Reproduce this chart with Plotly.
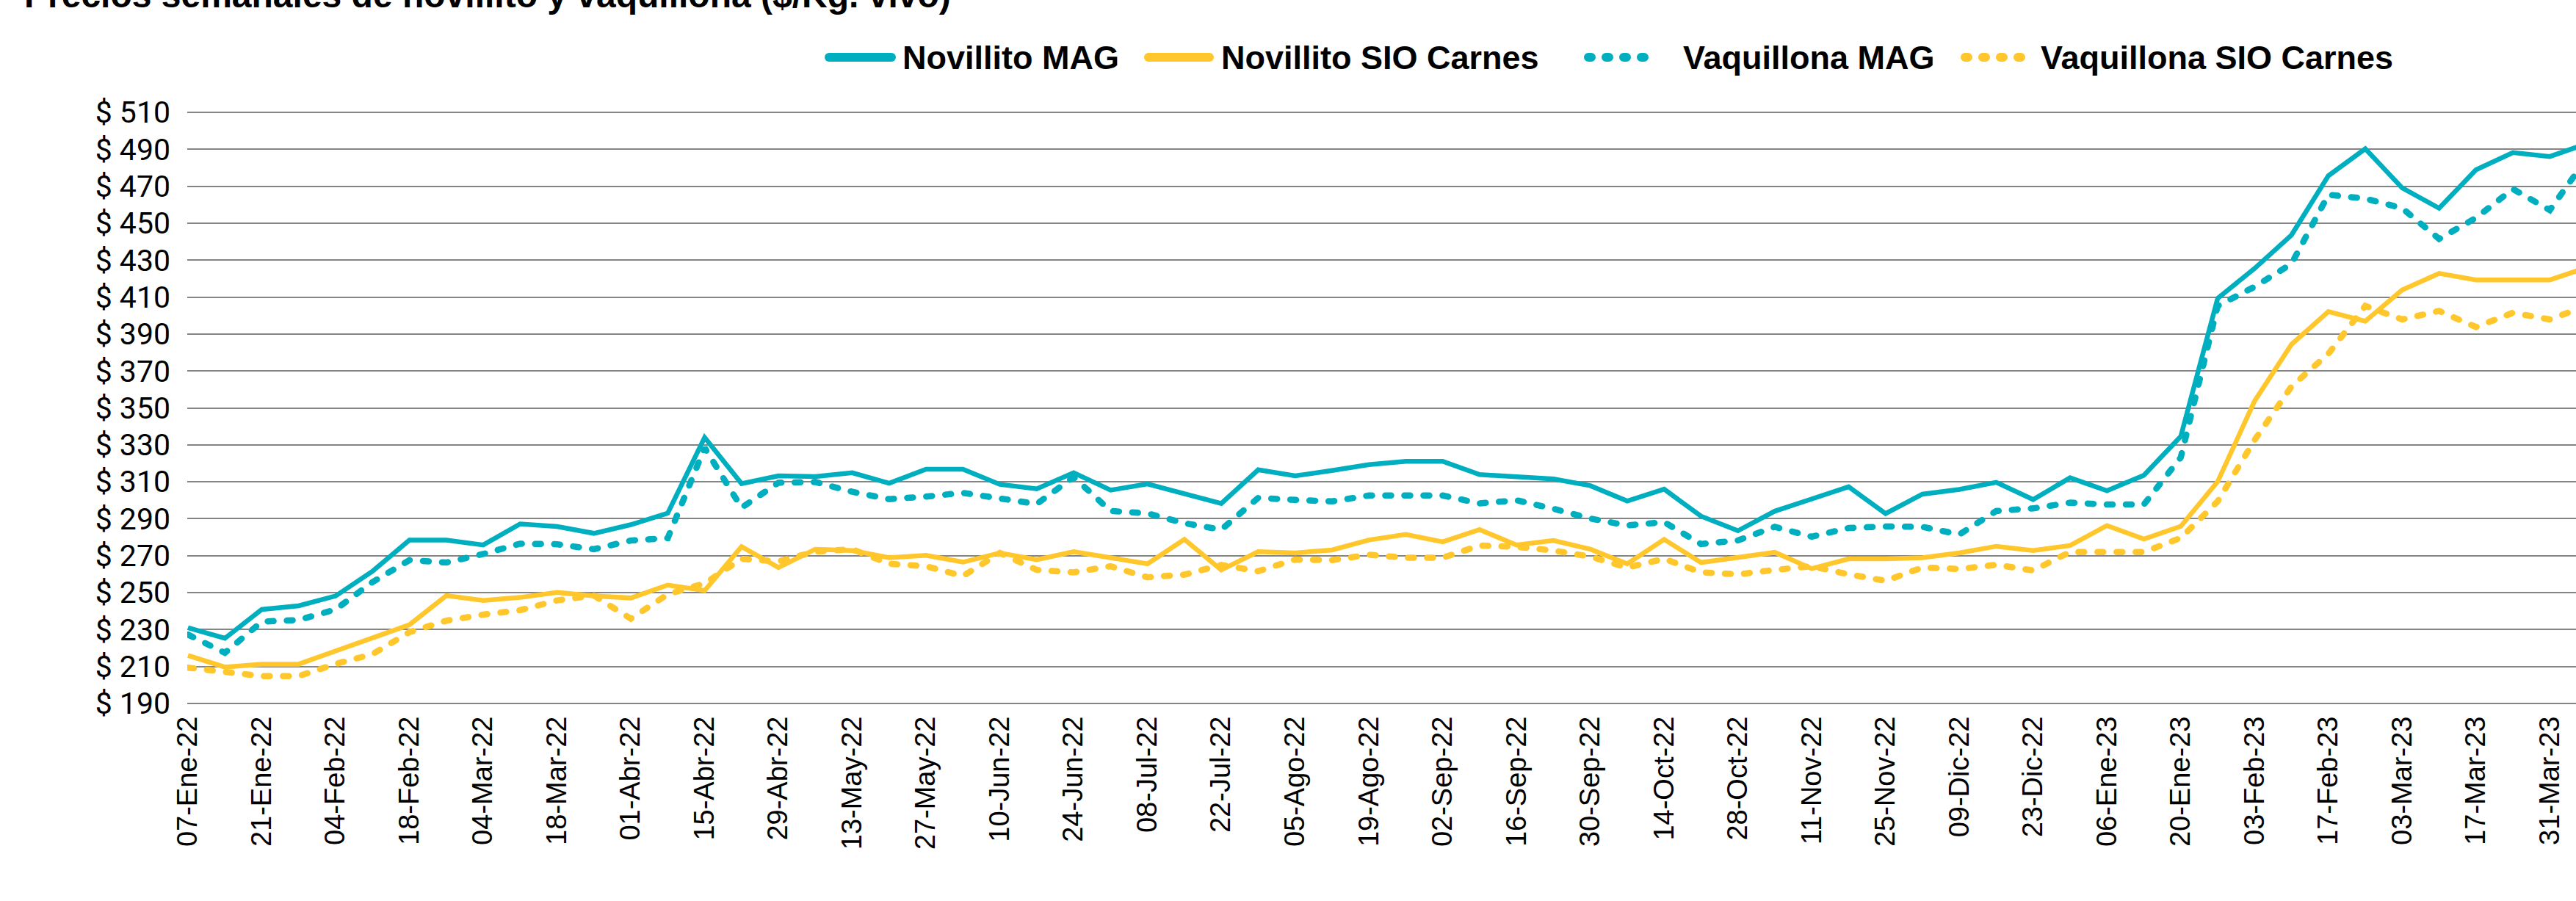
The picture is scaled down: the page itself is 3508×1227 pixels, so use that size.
import plotly.graph_objects as go

# ---------------- data ----------------
semanas = [
    "07-Ene-22", "14-Ene-22", "21-Ene-22", "28-Ene-22", "04-Feb-22", "11-Feb-22",
    "18-Feb-22", "25-Feb-22", "04-Mar-22", "11-Mar-22", "18-Mar-22", "25-Mar-22",
    "01-Abr-22", "08-Abr-22", "15-Abr-22", "22-Abr-22", "29-Abr-22", "06-May-22",
    "13-May-22", "20-May-22", "27-May-22", "03-Jun-22", "10-Jun-22", "17-Jun-22",
    "24-Jun-22", "01-Jul-22", "08-Jul-22", "15-Jul-22", "22-Jul-22", "29-Jul-22",
    "05-Ago-22", "12-Ago-22", "19-Ago-22", "26-Ago-22", "02-Sep-22", "09-Sep-22",
    "16-Sep-22", "23-Sep-22", "30-Sep-22", "07-Oct-22", "14-Oct-22", "21-Oct-22",
    "28-Oct-22", "04-Nov-22", "11-Nov-22", "18-Nov-22", "25-Nov-22", "02-Dic-22",
    "09-Dic-22", "16-Dic-22", "23-Dic-22", "30-Dic-22", "06-Ene-23", "13-Ene-23",
    "20-Ene-23", "27-Ene-23", "03-Feb-23", "10-Feb-23", "17-Feb-23", "24-Feb-23",
    "03-Mar-23", "10-Mar-23", "17-Mar-23", "24-Mar-23", "31-Mar-23", "07-Abr-23",
]

novillito_mag = [
    231.0, 225.3, 240.9, 242.9, 248.2, 261.6, 278.4, 278.4, 275.8, 287.2, 285.8,
    282.1, 286.8, 293.0, 334.0, 309.0, 313.2, 312.8, 314.9, 309.2, 316.8, 316.8,
    308.6, 306.2, 314.9, 305.5, 308.8, 303.3, 298.3, 316.5, 313.2, 316.1, 319.3,
    321.1, 321.1, 313.9, 312.8, 311.5, 307.9, 299.6, 306.0, 291.4, 283.5, 294.1,
    300.7, 307.3, 292.8, 303.3, 305.9, 309.7, 300.4, 312.2, 305.2, 313.5, 334.6,
    409.3, 425.5, 443.6, 475.7, 490.3, 469.1, 458.1, 478.9, 488.2, 486.1, 493.0,
]

novillito_sio = [
    216.0, 209.7, 211.3, 211.3, 218.4, 225.7, 232.6, 248.4, 245.8, 247.4, 250.1,
    248.2, 247.1, 254.1, 251.1, 274.9, 263.6, 273.5, 272.8, 268.9, 270.2, 266.5,
    271.5, 267.8, 272.2, 268.9, 265.6, 278.8, 262.3, 272.2, 271.5, 273.1, 278.5,
    281.5, 277.5, 284.1, 275.8, 278.2, 273.5, 265.6, 278.8, 266.3, 268.9, 271.8,
    263.0, 268.3, 268.3, 268.9, 271.5, 275.1, 272.8, 275.5, 286.3, 279.0, 285.9,
    310.1, 353.7, 384.4, 402.1, 396.9, 413.9, 422.8, 419.3, 419.3, 419.3, 426.0,
]

vaquillona_mag = [
    227.3, 217.4, 234.3, 235.2, 240.9, 255.7, 267.6, 266.3, 270.9, 276.5, 276.2,
    273.5, 278.2, 279.5, 328.4, 296.0, 309.5, 309.9, 304.6, 300.6, 302.0, 304.0,
    301.0, 298.0, 312.6, 294.2, 292.9, 287.6, 284.1, 301.3, 300.2, 299.4, 302.6,
    302.6, 302.6, 298.3, 300.0, 295.4, 290.1, 286.4, 288.2, 276.3, 278.3, 285.6,
    280.3, 285.0, 285.8, 285.6, 281.5, 294.2, 295.6, 298.7, 297.7, 297.7, 323.2,
    405.2, 415.6, 428.0, 465.4, 463.3, 458.1, 441.5, 452.9, 468.5, 457.1, 485.0,
]

vaquillona_sio = [
    209.4, 206.8, 204.8, 204.8, 211.4, 216.7, 228.6, 234.8, 238.1, 240.5, 245.8,
    248.4, 235.9, 249.1, 255.0, 268.3, 266.9, 272.2, 273.5, 265.6, 264.3, 259.0,
    271.5, 262.3, 261.0, 264.3, 258.3, 259.7, 265.0, 261.6, 267.9, 267.6, 270.5,
    268.9, 268.9, 275.5, 274.8, 272.8, 269.5, 263.6, 268.3, 261.0, 259.9, 262.3,
    264.3, 259.9, 256.4, 263.6, 262.8, 265.1, 262.0, 272.0, 272.0, 272.0, 279.6,
    299.4, 332.6, 361.6, 379.3, 405.2, 397.9, 402.5, 393.8, 401.5, 397.9, 405.2,
]

etiquetas_x = semanas[0:65:2]
valores_y = [190, 210, 230, 250, 270, 290, 310, 330, 350, 370, 390, 410, 430, 450, 470, 490, 510]
etiquetas_y = ["$ " + str(v) for v in valores_y]

nombres = ["Novillito MAG", "Novillito SIO Carnes", "Vaquillona MAG", "Vaquillona SIO Carnes"]
titulo = "Precios semanales de novillito y vaquillona ($/Kg. vivo)"

# ---------------- style ----------------
TEAL = "#00AFBF"
GOLD = "#FFC72C"
W, H = 3508, 1227
L, R, T, B = 255, 0, 152, 268
PW, PH = W - L - R, H - T - B


def fx(p):
    return (p - L) / PW


def fy(p):
    return (H - B - p) / PH


fig = go.Figure()
series = [
    (nombres[0], novillito_mag, TEAL, "solid", 6.5),
    (nombres[1], novillito_sio, GOLD, "solid", 6.5),
    (nombres[2], vaquillona_mag, TEAL, "8px,18px", 8.5),
    (nombres[3], vaquillona_sio, GOLD, "8px,18px", 8.5),
]
for name, vals, col, dash, w in series:
    fig.add_trace(go.Scatter(
        x=semanas, y=vals, mode="lines", name=name, showlegend=False,
        line=dict(color=col, width=w, dash=dash),
        hoverinfo="x+y+name",
    ))

# manual legend (samples + labels)
leg_y = 78
legend_items = [
    (nombres[0], TEAL, "solid", 1123, 1220, 1227),
    (nombres[1], GOLD, "solid", 1558, 1653, 1661),
    (nombres[2], TEAL, "4px,20px", 2157, 2252, 2290),
    (nombres[3], GOLD, "4px,20px", 2670, 2770, 2777),
]
shapes = []
annotations = []
for name, col, dash, s0, s1, tx in legend_items:
    lw = 12
    shapes.append(dict(
        type="line", xref="paper", yref="paper",
        x0=fx(s0 + lw / 2), x1=fx(s1 - lw / 2), y0=fy(leg_y), y1=fy(leg_y),
        line=dict(color=col, width=lw, dash=dash),
    ))
    annotations.append(dict(
        text=name, xref="paper", yref="paper", x=fx(tx), y=fy(leg_y),
        xanchor="left", yanchor="middle", showarrow=False,
        font=dict(family="Liberation Sans", size=45, color="black", weight="bold"),
    ))

annotations.append(dict(
    text=titulo, xref="paper", yref="paper", x=fx(31), y=fy(22),
    xanchor="left", yanchor="bottom", showarrow=False,
    font=dict(family="Liberation Sans", size=48, color="black", weight="bold"),
))

fig.update_layout(
    width=W, height=H,
    margin=dict(l=L, r=R, t=T, b=B, pad=0),
    paper_bgcolor="white", plot_bgcolor="white",
    showlegend=False,
    shapes=shapes, annotations=annotations,
    xaxis=dict(
        type="category", categoryorder="array", categoryarray=semanas,
        range=[-0.02, 64.71],
        tickmode="array", tickvals=etiquetas_x, ticktext=etiquetas_x,
        tickangle=-90, ticks="", showgrid=False, zeroline=False, showline=False,
        ticklabelstandoff=8,
        tickfont=dict(family="Liberation Sans", size=38, color="black"),
    ),
    yaxis=dict(
        range=[189.6, 510.4],
        tickmode="array", tickvals=valores_y, ticktext=etiquetas_y,
        ticks="", showgrid=True, gridcolor="#858585", gridwidth=2,
        zeroline=False, showline=False, ticklabelstandoff=22,
        tickfont=dict(family="Roboto", size=41, color="black"),
    ),
)

post = """
document.body.style.margin = '0';
var gd = document.getElementById('{plot_id}');
function roundCaps() {
  gd.querySelectorAll('.scatterlayer path.js-line').forEach(function (p) {
    var d = p.style.strokeDasharray;
    if (d && d !== 'none') { p.style.strokeLinecap = 'round'; }
  });
  gd.querySelectorAll('.shapelayer path').forEach(function (p) {
    p.style.strokeLinecap = 'round';
  });
}
roundCaps();
gd.on('plotly_afterplot', roundCaps);
"""

fig.write_html("out.html", post_script=post, config={"displayModeBar": False})
